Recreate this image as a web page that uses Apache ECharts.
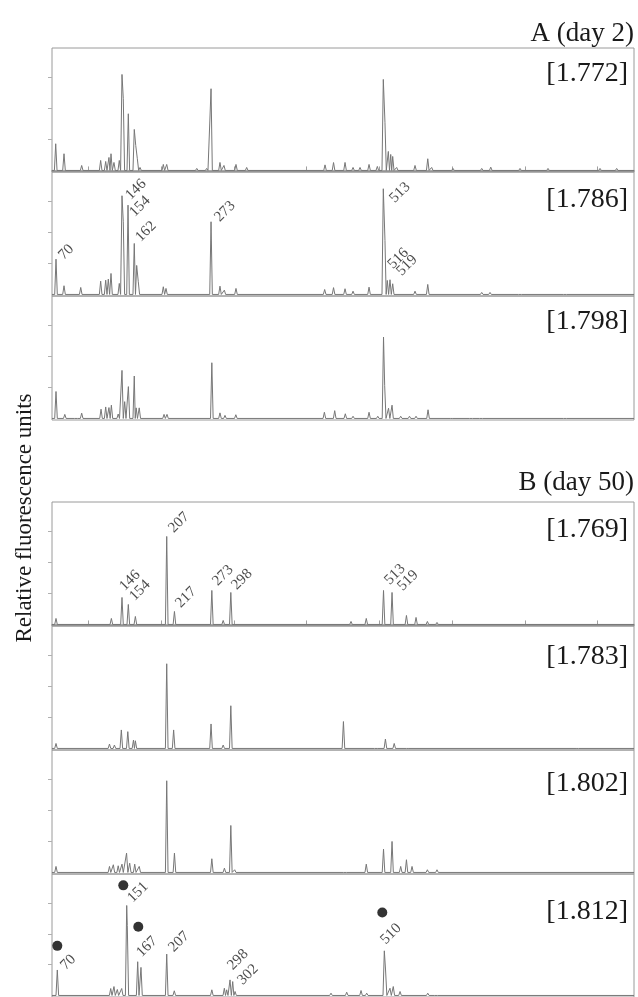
<!DOCTYPE html>
<html>
<head>
<meta charset="utf-8">
<script src="https://cdn.jsdelivr.net/npm/echarts@6/dist/echarts.min.js"></script>
<style>
  html, body { margin: 0; padding: 0; background: #fff; }
  #chart { width: 638px; height: 997px; }
</style>
</head>
<body>
<div id="chart"></div>
<script>
// x = scan number (0..8000), y = RFU (one tick every 1000)
var xTicks = [500, 1500, 2500, 3500, 4500, 5500, 6500, 7500]
var yTicks = [1000, 2000, 3000]

var panelNames = ['[1.772]', '[1.786]', '[1.798]', '[1.769]', '[1.783]', '[1.802]', '[1.812]']

// peaks: [scan, height]
var peaksA1 = [[51, 861], [165, 539], [408, 161], [669, 323], [738, 290], [783, 419], [811, 539], [852, 258], [925, 323],
  [962, 3097], [980, 2313], [1049, 1829], [1131, 1323], [1151, 807], [1173, 377], [1210, 97], [1530, 194], [1577, 194],
  [1990, 65], [2126, 65], [2186, 2636], [2309, 258], [2364, 161], [2529, 194], [2676, 97], [3753, 180], [3870, 255],
  [4028, 258], [4138, 97], [4234, 97], [4358, 194], [4472, 129], [4554, 2936], [4577, 1539], [4623, 613], [4656, 516],
  [4683, 452], [4738, 97], [4990, 161], [5165, 377], [5219, 97], [5512, 65], [5907, 65], [6031, 106], [6433, 65],
  [6818, 65], [7533, 65], [7762, 65]]
var peaksA2 = [[55, 1139], [165, 281], [395, 226], [669, 429], [738, 461], [774, 494], [811, 677], [925, 355],
  [962, 3184], [980, 2345], [1045, 2881], [1131, 1645], [1164, 936], [1186, 410], [1530, 248], [1567, 194],
  [2186, 2345], [2309, 268], [2369, 139], [2529, 194], [3748, 160], [3870, 220], [4028, 184], [4138, 106], [4358, 235],
  [4554, 3410], [4577, 1742], [4609, 452], [4646, 474], [4683, 345], [4990, 106], [5165, 323], [5907, 65], [6021, 65],
  [6433, 50], [7052, 50]]
var peaksA3 = [[55, 869], [176, 131], [330, 57], [408, 171], [674, 299], [738, 371], [783, 351], [816, 428], [910, 143],
  [962, 1550], [999, 542], [1050, 1027], [1131, 1369], [1157, 342], [1199, 342], [1540, 131], [1581, 131],
  [2197, 1797], [2309, 180], [2378, 100], [2527, 120], [3744, 200], [3886, 251], [4032, 151], [4138, 71], [4358, 200],
  [4478, 71], [4557, 2625], [4573, 1055], [4626, 331], [4674, 428], [4793, 71], [4914, 71], [5004, 71], [5169, 280],
  [5492, 51], [5760, 51], [5897, 51], [7052, 51]]
var peaksB1 = [[55, 194], [816, 194], [962, 871], [1049, 645], [1146, 258], [1577, 2839], [1683, 419], [2197, 1097],
  [2353, 129], [2458, 1032], [4110, 97], [4320, 194], [4557, 1097], [4674, 1032], [4872, 290], [5004, 226], [5160, 97],
  [5292, 65]]
var peaksB2 = [[55, 161], [790, 142], [858, 110], [953, 597], [1042, 542], [1120, 271], [1146, 248], [1577, 2732],
  [1672, 597], [2186, 790], [2353, 110], [2458, 1377], [4006, 868], [4452, 55], [4583, 303], [4704, 161], [4888, 55],
  [7222, 55]]
var peaksB3 = [[55, 194], [790, 194], [843, 248], [910, 216], [962, 268], [1025, 623], [1068, 300], [1137, 268],
  [1199, 194], [1577, 2958], [1683, 623], [2197, 442], [2370, 139], [2458, 1516], [2511, 87], [4028, 55], [4320, 268],
  [4557, 752], [4674, 1000], [4793, 194], [4872, 410], [4949, 194], [5160, 87], [5292, 87]]
var peaksB4 = [[73, 829], [807, 226], [852, 290], [898, 194], [958, 226], [1027, 2926], [1035, 2280], [1178, 1097],
  [1223, 913], [1577, 1345], [1681, 152], [2197, 184], [2369, 235], [2401, 184], [2447, 506], [2484, 452], [2516, 129],
  [3835, 74], [4051, 106], [4248, 161], [4326, 74], [4568, 1452], [4585, 829], [4646, 235], [4691, 290], [4784, 129],
  [5165, 74], [5279, 55]]

// peak size labels: [scan, height, text]
var labelsA2 = [[124, 1194, '70'], [1045, 3129, '146'], [1100, 2581, '154'], [1182, 1774, '162'], [2268, 2420, '273'],
  [4674, 3032, '513'], [4650, 900, '516'], [4770, 680, '519']]
var labelsB1 = [[962, 1161, '146'], [1100, 839, '154'], [1636, 3032, '207'], [1732, 613, '217'], [2241, 1323, '273'],
  [2502, 1194, '298'], [4605, 1355, '513'], [4784, 1161, '519']]
var labelsB4 = [[151, 903, '70'], [1072, 3097, '151'], [1196, 1323, '167'], [1636, 1484, '207'], [2447, 903, '298'],
  [2584, 419, '302'], [4550, 1742, '510']]
// black dots in the last panel
var dotsB4 = [[73, 1613], [980, 3581], [1186, 2236], [4540, 2700]]

var peaks = [peaksA1, peaksA2, peaksA3, peaksB1, peaksB2, peaksB3, peaksB4]
var labels = [[], labelsA2, [], labelsB1, [], [], labelsB4]
var tops = [48, 172, 296, 502, 626, 750, 874]
var nameOffset = [26, 28, 26, 28, 31, 34, 38]
var FOOT = 18
var SHOULDER = 25
var SERIF = '"Liberation Serif", "DejaVu Serif", serif'

// turn the peak list into a line that drops to the baseline between peaks
function buildTrace (list) {
  var pts = [[0, 0]]
  for (var i = 0; i < list.length; i++) {
    var p = list[i]
    var prev = list[i - 1]
    var next = list[i + 1]
    if (!prev || p[0] - prev[0] > 2 * FOOT) pts.push([p[0] - FOOT, 0])
    pts.push([p[0], p[1]])
    if (!next || next[0] - p[0] > 2 * FOOT) {
      pts.push([p[0] + FOOT, 0])
    } else if (next[0] - p[0] > SHOULDER) {
      pts.push([(p[0] + next[0]) / 2, 0])
    }
  }
  pts.push([8000, 0])
  return pts
}

var grids = []
var xAxes = []
var yAxes = []
var series = []
var graphics = []

for (var i = 0; i < 7; i++) {
  var topAxis = (i === 0 || i === 3)
  grids.push({ left: 52, width: 582, top: tops[i], height: 124, show: true, borderColor: '#9a9a9a', borderWidth: 1 })
  xAxes.push({
    gridIndex: i, type: 'value', min: 0, max: 8000, position: 'top',
    axisLine: { show: topAxis, lineStyle: { color: '#8c8c8c', width: 1.5 } },
    axisTick: { show: topAxis, inside: false, length: 4, customValues: xTicks, lineStyle: { color: '#a0a0a0' } },
    axisLabel: { show: false },
    splitLine: { show: false }
  })
  yAxes.push({
    gridIndex: i, type: 'value', min: -50, max: 3950,
    axisLine: { show: false },
    axisTick: { show: true, inside: false, length: 4, customValues: yTicks, lineStyle: { color: '#b0b0b0' } },
    axisLabel: { show: false },
    splitLine: { show: false }
  })
  series.push({
    type: 'line', xAxisIndex: i, yAxisIndex: i, data: buildTrace(peaks[i]),
    showSymbol: false, silent: true, lineStyle: { color: '#777', width: 1 }
  })
  if (labels[i].length) {
    series.push({
      type: 'scatter', xAxisIndex: i, yAxisIndex: i, symbolSize: 0, silent: true,
      data: labels[i].map(function (d) { return { value: [d[0], d[1]], name: d[2] } }),
      label: {
        show: true, position: 'inside', formatter: '{b}', rotate: 45, align: 'left', verticalAlign: 'middle',
        fontFamily: SERIF, fontSize: 15, color: '#1a1a1a'
      }
    })
  }
  graphics.push({
    type: 'text', right: 10, top: tops[i] + nameOffset[i] - 14,
    style: { text: panelNames[i], font: '28px ' + SERIF, fill: '#1a1a1a' }
  })
}

series.push({
  type: 'scatter', xAxisIndex: 6, yAxisIndex: 6, symbolSize: 10, silent: true,
  itemStyle: { color: '#000' }, data: dotsB4
})

graphics.push({ type: 'text', right: 4, top: 20, style: { text: 'A (day 2)', font: '27px ' + SERIF, fill: '#1a1a1a' } })
graphics.push({ type: 'text', right: 4, top: 469, style: { text: 'B (day 50)', font: '27px ' + SERIF, fill: '#1a1a1a' } })
graphics.push({
  type: 'text', x: 25, y: 518, rotation: Math.PI / 2,
  style: { text: 'Relative fluorescence units', font: '23px ' + SERIF, fill: '#1a1a1a', align: 'center', verticalAlign: 'middle' }
})

var myChart = echarts.init(document.getElementById('chart'))
myChart.setOption({
  animation: false,
  grid: grids,
  xAxis: xAxes,
  yAxis: yAxes,
  series: series,
  graphic: graphics
})
</script>
</body>
</html>
